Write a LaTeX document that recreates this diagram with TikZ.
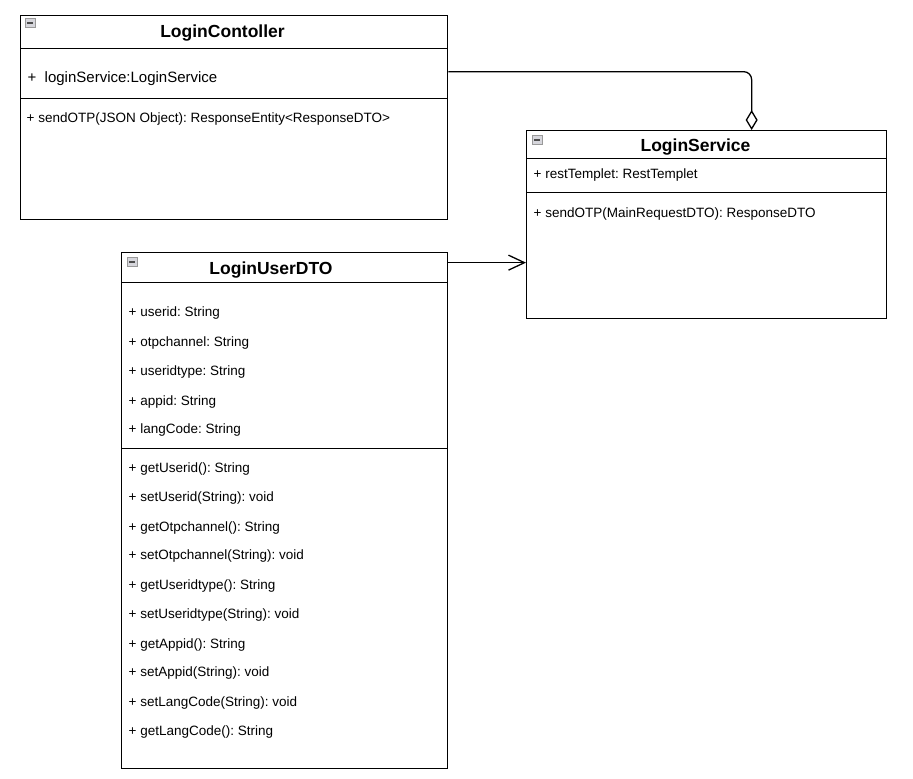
\documentclass[tikz,border=0pt]{standalone}
\usepackage{fontspec}
\setmainfont{Liberation Sans}
\usetikzlibrary{arrows.meta}
\frenchspacing

\begin{document}
\begin{tikzpicture}[x=1pt,y=-1pt,line width=1.3pt,
    part/.style={draw,rectangle,anchor=north west,inner sep=0pt},
    title/.style={yshift=-2pt,font=\bfseries\fontsize{17.5}{20}\selectfont},
    member/.style={anchor=west,inner sep=0pt,yshift=-2pt,font=\fontsize{13.5}{16}\selectfont},
    icon/.style={draw=gray!80,fill=blue!8!gray!30,line width=.6pt,minimum width=10pt,
      minimum height=9pt,inner sep=0pt,anchor=north west}]

  \useasboundingbox (0,0) rectangle (913,779);

  % class boxes
  \begin{scope}[every node/.style={part}]
    \node[minimum width=427pt,minimum height=33pt]  (ctrlhead) at (20,15)  {};
    \node[minimum width=427pt,minimum height=50pt]  (ctrlattr) at (20,48)  {};
    \node[minimum width=427pt,minimum height=121pt] (ctrlbody) at (20,98)  {};
    \node[minimum width=360pt,minimum height=28pt]  (svchead)  at (526,130) {};
    \node[minimum width=360pt,minimum height=34pt]  (svcattr)  at (526,158) {};
    \node[minimum width=360pt,minimum height=126pt] (svcbody)  at (526,192) {};
    \node[minimum width=326pt,minimum height=30pt]  (dtohead)  at (121,252) {};
    \node[minimum width=326pt,minimum height=166pt] (dtoattr)  at (121,282) {};
    \node[minimum width=326pt,minimum height=320pt] (dtobody)  at (121,448) {};
  \end{scope}

  \begin{scope}[every node/.style={icon}]
    \node (ctrlicon) at (25,18)  {\color{black!70}\rule{6pt}{1.5pt}};
    \node (svcicon)  at (532,135) {\color{black!70}\rule{6pt}{1.5pt}};
    \node (dtoicon)  at (127,257) {\color{black!70}\rule{6pt}{1.5pt}};
  \end{scope}

  \node[title] (ctrlname) at (222.5,31) {LoginContoller};
  \node[title] (svcname)  at (695.5,145) {LoginService};
  \node[title] (dtoname)  at (271,268) {LoginUserDTO};

  \begin{scope}[every node/.style={member}]
    \node[font=\fontsize{15}{18}\selectfont] (ctrla1) at (27,77) {+\ \ loginService:LoginService};
    \node (ctrlm1) at (26,117)  {+ sendOTP(JSON Object): ResponseEntity<ResponseDTO>};
    \node (svca1)  at (533,173) {+ restTemplet: RestTemplet};
    \node (svcm1)  at (533,212) {+ sendOTP(MainRequestDTO): ResponseDTO};

    \node (dtoa1)  at (128,311) {+ userid: String};
    \node (dtoa2)  at (128,341) {+ otpchannel: String};
    \node (dtoa3)  at (128,370) {+ useridtype: String};
    \node (dtoa4)  at (128,400) {+ appid: String};
    \node (dtoa5)  at (128,428) {+ langCode: String};

    \node (dtom1)  at (128,467) {+ getUserid(): String};
    \node (dtom2)  at (128,496) {+ setUserid(String): void};
    \node (dtom3)  at (128,526) {+ getOtpchannel(): String};
    \node (dtom4)  at (128,554) {+ setOtpchannel(String): void};
    \node (dtom5)  at (128,584) {+ getUseridtype(): String};
    \node (dtom6)  at (128,613) {+ setUseridtype(String): void};
    \node (dtom7)  at (128,643) {+ getAppid(): String};
    \node (dtom8)  at (128,671) {+ setAppid(String): void};
    \node (dtom9)  at (128,701) {+ setLangCode(String): void};
    \node (dtom10) at (128,730) {+ getLangCode(): String};
  \end{scope}

  % relations
  \coordinate (aggstart) at ([yshift=2pt]ctrlattr.east);
  \coordinate (aggend)   at ([xshift=45pt]svchead.north);
  \draw[rounded corners=8pt,-{Diamond[open,length=20pt,width=12pt]}] (aggstart) -| (aggend);

  \coordinate (dtoout) at ([yshift=5pt]dtohead.east);
  \draw[-{Straight Barb[length=16pt,width=15pt]}] (dtoout) -- (dtoout -| svcbody.west);

\end{tikzpicture}
\end{document}
